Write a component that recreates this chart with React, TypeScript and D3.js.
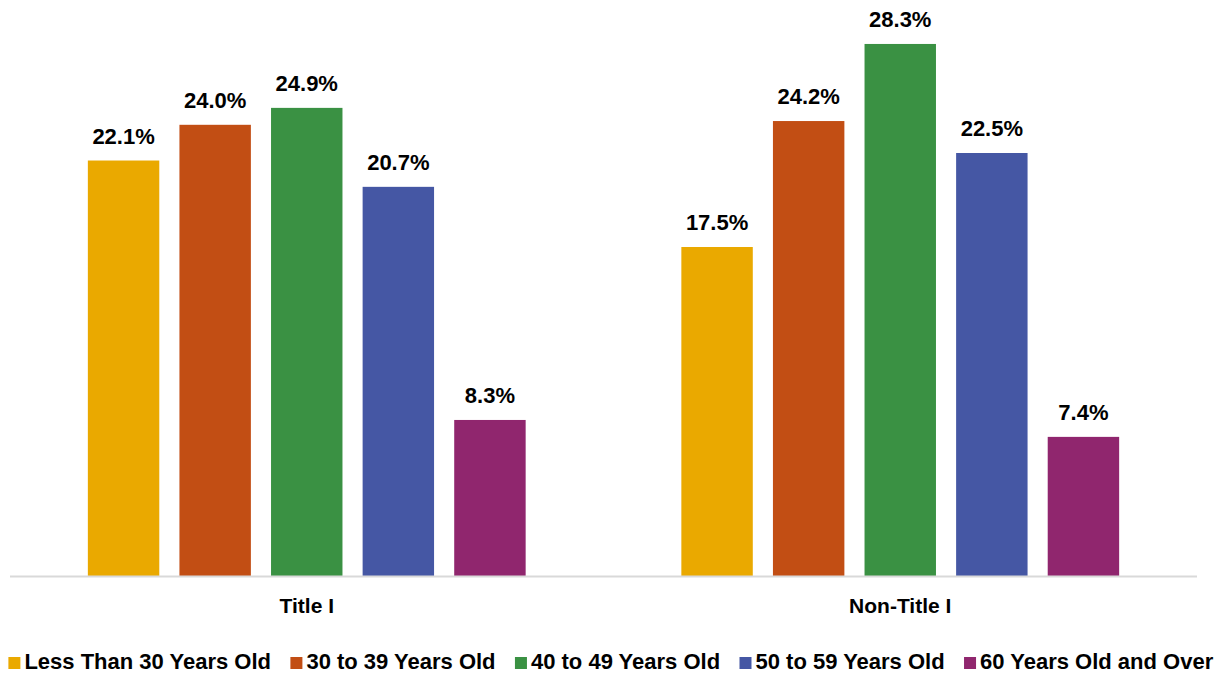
import React, { useEffect, useRef } from "react";
import * as d3 from "d3";

const categories = ["Title I", "Non-Title I"];
const series = [
  "Less Than 30 Years Old",
  "30 to 39 Years Old",
  "40 to 49 Years Old",
  "50 to 59 Years Old",
  "60 Years Old and Over",
];
const titleIValues = [22.1, 24.0, 24.9, 20.7, 8.3];
const nonTitleIValues = [17.5, 24.2, 28.3, 22.5, 7.4];
const colors = ["#EAA900", "#C24E14", "#3A9143", "#4557A4", "#90266E"];

const W = 1222;
const H = 675;
const FONT = "'Liberation Sans', Arial, sans-serif";

export default function App() {
  const ref = useRef<SVGSVGElement>(null);
  useEffect(() => {
    const svg = d3.select(ref.current);
    svg.selectAll("*").remove();
    const data = [titleIValues, nonTitleIValues];
    const left = 10, right = 1197, top = 12, bottom = 576;
    const x0 = d3.scaleBand<string>().domain(categories).range([left, right]).paddingInner(0).paddingOuter(0);
    const x1 = d3.scaleBand<string>().domain(series).range([0, x0.bandwidth()]).paddingInner(0.22).paddingOuter(0.85);
    const y = d3.scaleLinear().domain([0, 30]).range([bottom, top]);

    const g = svg.append("g");
    categories.forEach((c, ci) => {
      const gg = g.append("g").attr("transform", `translate(${x0(c)},0)`);
      gg.selectAll("rect")
        .data(data[ci])
        .join("rect")
        .attr("x", (_d, i) => x1(series[i])!)
        .attr("width", x1.bandwidth())
        .attr("y", (d) => y(d))
        .attr("height", (d) => y(0) - y(d))
        .attr("fill", (_d, i) => colors[i]);
      gg.selectAll("text.lbl")
        .data(data[ci])
        .join("text")
        .attr("class", "lbl")
        .attr("x", (_d, i) => x1(series[i])! + x1.bandwidth() / 2)
        .attr("y", (d) => y(d) - 17)
        .attr("text-anchor", "middle")
        .attr("font-family", FONT)
        .attr("font-weight", 700)
        .attr("font-size", 22)
        .attr("fill", "#000")
        .text((d) => d.toFixed(1) + "%");
    });

    // axis line
    g.append("line")
      .attr("x1", left).attr("x2", right)
      .attr("y1", bottom + 0.5).attr("y2", bottom + 0.5)
      .attr("stroke", "#d9d9d9").attr("stroke-width", 2);

    // category labels
    g.selectAll("text.cat")
      .data(categories)
      .join("text")
      .attr("class", "cat")
      .attr("x", (d) => x0(d)! + x0.bandwidth() / 2)
      .attr("y", 613)
      .attr("text-anchor", "middle")
      .attr("font-family", FONT)
      .attr("font-weight", 700)
      .attr("font-size", 21)
      .attr("fill", "#000")
      .text((d) => d);

    // legend
    const canvas = document.createElement("canvas");
    const ctx = canvas.getContext("2d")!;
    ctx.font = `700 22px ${FONT}`;
    const sq = 12, gapSq = 4, gapItem = 19;
    const widths = series.map((s) => sq + gapSq + ctx.measureText(s).width);
    const total = d3.sum(widths) + gapItem * (series.length - 1);
    let cx = (W - total) / 2;
    const lg = svg.append("g");
    series.forEach((s, i) => {
      lg.append("rect").attr("x", cx).attr("y", 657).attr("width", sq).attr("height", sq).attr("fill", colors[i]);
      lg.append("text")
        .attr("x", cx + sq + gapSq)
        .attr("y", 669)
        .attr("font-family", FONT)
        .attr("font-weight", 700)
        .attr("font-size", 22)
        .attr("fill", "#000")
        .text(s);
      cx += widths[i] + gapItem;
    });
  }, []);
  return (
    <svg ref={ref} width={W} height={H} style={{ position: "absolute", left: 0, top: 0, background: "#fff" }} />
  );
}
